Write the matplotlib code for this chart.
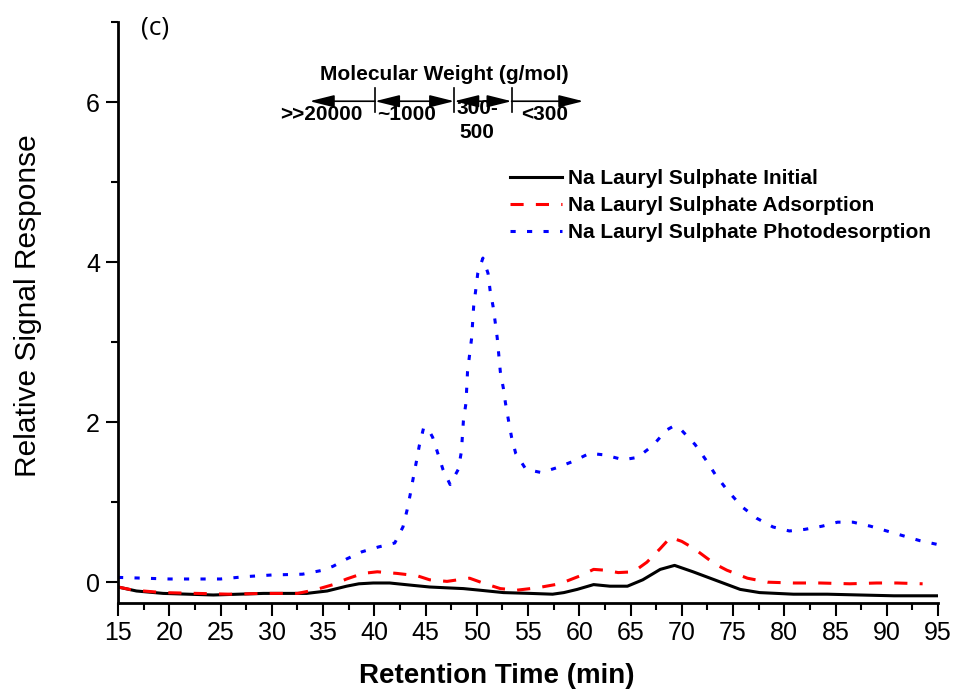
import numpy as np
import matplotlib
matplotlib.use('Agg')
import matplotlib.pyplot as plt
from matplotlib.ticker import MultipleLocator

plt.rcParams['font.family'] = ['Liberation Sans', 'DejaVu Sans']

# Данные
t_blue = [15, 17.5, 20, 22.5, 25, 27.5, 30, 33, 35, 36, 37.3, 38.8, 40.4, 42.0, 42.8, 43.2,
          43.5, 43.8, 44.1, 44.4, 44.8, 45.2, 45.7, 46.2, 46.7, 47.4, 48.2, 48.5, 48.7, 48.95,
          49.1, 49.3, 49.5, 49.7, 49.9, 50.1, 50.6, 51.1, 51.3, 51.6, 51.8, 52.0, 52.3, 52.6,
          52.8, 53.1, 53.4, 53.8, 54.8, 56.3, 57.8, 59.4, 61.0, 62.5, 64.3, 65.7, 67.2, 68.5,
          69.2, 69.9, 71.3, 72.4, 73.3, 74.5, 75.9, 77.3, 78.9, 80.5, 82.0, 83.7, 85.2, 86.7,
          88.4, 90.0, 91.6, 93.2, 95]
photo = [0.06, 0.05, 0.04, 0.04, 0.04, 0.07, 0.09, 0.10, 0.15, 0.20, 0.29, 0.38, 0.44, 0.49, 0.69, 0.90,
         1.09, 1.30, 1.50, 1.71, 1.92, 1.93, 1.81, 1.61, 1.41, 1.22, 1.41, 1.63, 2.02, 2.24,
         2.63, 2.84, 3.05, 3.45, 3.65, 3.86, 4.05, 3.86, 3.65, 3.44, 3.25, 3.05, 2.63, 2.42,
         2.24, 2.02, 1.81, 1.61, 1.41, 1.37, 1.43, 1.51, 1.61, 1.59, 1.53, 1.56, 1.71, 1.90,
         1.95, 1.91, 1.72, 1.52, 1.34, 1.14, 0.94, 0.80, 0.69, 0.64, 0.66, 0.70, 0.75, 0.75,
         0.70, 0.64, 0.58, 0.52, 0.47]

t_red = [15, 16.5, 19.4, 22.7, 25.9, 29.2, 32.5, 34.1, 36, 37.3, 38.9, 40.3, 42.2, 44.2, 45.4,
         47.1, 48.7, 49.3, 50.6, 52.3, 53.9, 55.9, 58.1, 60.1, 61.4, 62.5, 63.8, 65.3, 66.6,
         67.9, 68.9, 70.0, 71.2, 73.2, 74.4, 76.4, 78.4, 80.9, 83.5, 86.4, 89.0, 91, 93.5]
adsorp = [-0.06, -0.10, -0.13, -0.14, -0.15, -0.14, -0.14, -0.10, -0.03, 0.04, 0.11, 0.13, 0.11, 0.08, 0.03,
          0.01, 0.04, 0.05, -0.01, -0.08, -0.10, -0.07, -0.02, 0.08, 0.16, 0.15, 0.12, 0.13, 0.25,
          0.42, 0.56, 0.51, 0.42, 0.23, 0.15, 0.05, 0.00, -0.01, -0.01, -0.02, -0.01, -0.01, -0.02]

t_black = [15, 16.8, 19.4, 24.3, 29.2, 33.4, 35.4, 37.3, 38.5, 39.9, 41.5, 43.8, 45.4, 47, 48.7,
           50.3, 52.6, 55.2, 57.4, 58.5, 59.8, 61.4, 63, 64.7, 66.2, 67.9, 69.3, 71.1, 73.4,
           75.7, 77.6, 80.9, 84.2, 87.4, 90.7, 95]
initial = [-0.06, -0.11, -0.14, -0.16, -0.14, -0.14, -0.11, -0.05, -0.02, -0.01, -0.01, -0.04, -0.06, -0.07, -0.08,
           -0.10, -0.13, -0.14, -0.15, -0.13, -0.09, -0.03, -0.05, -0.05, 0.03, 0.16, 0.21, 0.13, 0.02,
           -0.09, -0.13, -0.15, -0.15, -0.16, -0.17, -0.17]

labels = ['Na Lauryl Sulphate Initial', 'Na Lauryl Sulphate Adsorption',
          'Na Lauryl Sulphate Photodesorption']

fig = plt.figure(figsize=(9.57, 6.98), dpi=100)
ax = fig.add_axes([118 / 957, 1 - 603 / 698, 820 / 957, 581 / 698])

ax.plot(t_black, initial, color='black', lw=2.2, label=labels[0])
ax.plot(t_red, adsorp, color='red', lw=2.2, dashes=(4.3, 4), label=labels[1])
ax.plot(t_blue, photo, color='blue', lw=2.2, dashes=(1.7, 3.7), label=labels[2])

ax.set_xlim(15, 95)
ax.set_ylim(-0.26, 7.0)
ax.xaxis.set_major_locator(MultipleLocator(5))
ax.xaxis.set_minor_locator(MultipleLocator(2.5))
ax.yaxis.set_major_locator(MultipleLocator(2))
ax.yaxis.set_minor_locator(MultipleLocator(1))
ax.tick_params(which='major', length=9, width=1.5, labelsize=18, pad=4)
ax.tick_params(which='minor', length=5, width=1.5)
for s in ['top', 'right']:
    ax.spines[s].set_visible(False)
for s in ['left', 'bottom']:
    ax.spines[s].set_linewidth(2)

fig.text(28 / 957, 1 - 306 / 698, 'Relative Signal Response', rotation=90,
         ha='center', va='center', fontsize=21.5)
fig.text(497 / 957, 1 - 676 / 698, 'Retention Time (min)', ha='center', va='center',
         fontsize=20, fontweight='bold')
fig.text(155 / 957, 1 - 28 / 698, '(c)', ha='center', va='center', fontsize=19,
         family=['Open Sans', 'DejaVu Sans'])

ax.legend(loc='upper left', bbox_to_anchor=(510 / 957, 1 - 169 / 698),
          bbox_transform=fig.transFigure, frameon=False, borderpad=0, borderaxespad=0,
          handlelength=2.5, handletextpad=0.3, labelspacing=0.38,
          prop={'size': 15, 'weight': 'bold'})

# шкала молекулярных масс
ay = 6.01
ax.text(46.8, 6.35, 'Molecular Weight (g/mol)', ha='center', va='center',
        fontsize=15, fontweight='bold')
hs = 'head_length=1.0,head_width=0.25'
ax.annotate('', xy=(33.7, ay), xytext=(40.07, ay),
            arrowprops=dict(arrowstyle='-|>,' + hs, color='black', lw=1.2,
                            shrinkA=0, shrinkB=0, mutation_scale=15))
ax.annotate('', xy=(47.8, ay), xytext=(40.07, ay),
            arrowprops=dict(arrowstyle='<|-|>,' + hs, color='black', lw=1.2,
                            shrinkA=0, shrinkB=0, mutation_scale=15))
ax.annotate('', xy=(53.4, ay), xytext=(47.8, ay),
            arrowprops=dict(arrowstyle='<|-|>,' + hs, color='black', lw=1.2,
                            shrinkA=0, shrinkB=0, mutation_scale=15))
ax.annotate('', xy=(60.4, ay), xytext=(53.4, ay),
            arrowprops=dict(arrowstyle='-|>,' + hs, color='black', lw=1.2,
                            shrinkA=0, shrinkB=0, mutation_scale=15))
for xd in [40.07, 47.8, 53.4]:
    ax.plot([xd, xd], [5.88, 6.18], color='black', lw=1.2)

ax.text(34.8, 5.84, '>>20000', ha='center', va='center', fontsize=15, fontweight='bold')
ax.text(43.2, 5.84, '~1000', ha='center', va='center', fontsize=15, fontweight='bold')
ax.text(50.1, 5.92, '300-', ha='center', va='center', fontsize=15, fontweight='bold')
ax.text(50.0, 5.62, '500', ha='center', va='center', fontsize=15, fontweight='bold')
ax.text(56.6, 5.84, '<300', ha='center', va='center', fontsize=15, fontweight='bold')

fig.savefig('out.png', dpi=100)
